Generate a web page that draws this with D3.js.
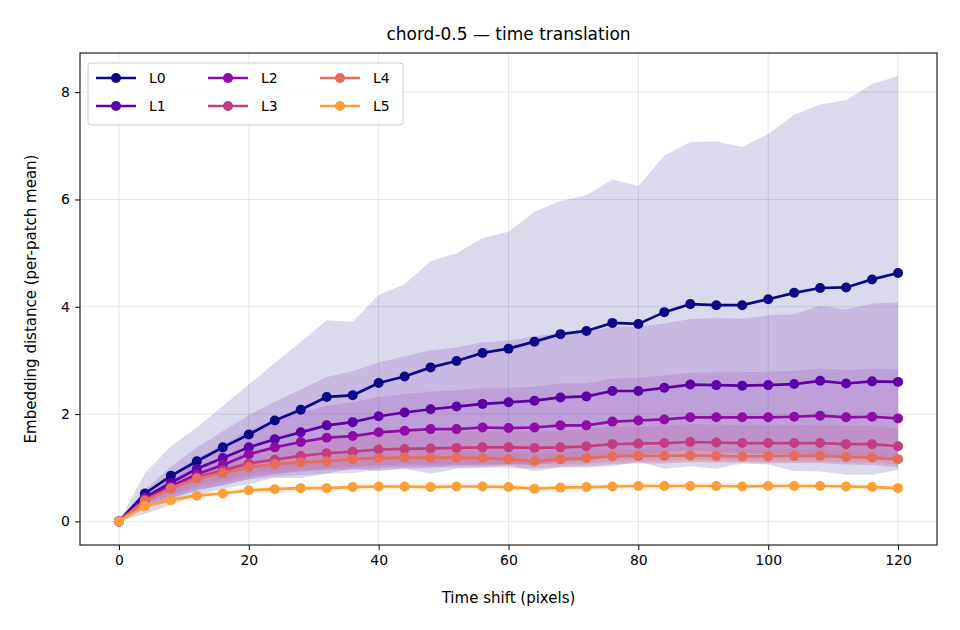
<!DOCTYPE html>
<html><head><meta charset="utf-8">
<script src="https://cdn.jsdelivr.net/npm/d3@7"></script>
<style>body{margin:0;background:#fff;font-family:"DejaVu Sans",sans-serif;}</style>
</head><body><div id="vis"></div>
<script>
const shifts = d3.range(0, 121, 4);
const seriesNames = ["L0", "L1", "L2", "L3", "L4", "L5"];
const colors = ["#0d0887", "#5c01a6", "#8f0da4", "#c33d80", "#e66c5c", "#fb9f3a"];
const meanL0 = [0,0.52,0.85,1.12,1.38,1.62,1.88,2.08,2.32,2.35,2.58,2.70,2.87,2.99,3.14,3.22,3.35,3.49,3.55,3.70,3.68,3.90,4.05,4.03,4.03,4.14,4.26,4.35,4.36,4.51,4.63];
const meanL1 = [0,0.45,0.72,0.98,1.18,1.38,1.53,1.66,1.79,1.85,1.96,2.03,2.09,2.14,2.19,2.22,2.25,2.31,2.33,2.43,2.43,2.49,2.55,2.54,2.53,2.54,2.56,2.62,2.57,2.61,2.60];
const meanL2 = [0,0.42,0.65,0.88,1.05,1.25,1.38,1.48,1.56,1.59,1.66,1.69,1.72,1.72,1.75,1.74,1.75,1.79,1.79,1.86,1.88,1.90,1.94,1.94,1.94,1.94,1.95,1.97,1.94,1.95,1.92];
const meanL3 = [0,0.40,0.62,0.82,0.95,1.08,1.15,1.22,1.27,1.30,1.34,1.35,1.36,1.37,1.38,1.38,1.37,1.38,1.40,1.44,1.45,1.46,1.48,1.47,1.46,1.46,1.46,1.46,1.44,1.44,1.40];
const meanL4 = [0,0.38,0.62,0.80,0.90,1.01,1.07,1.10,1.12,1.16,1.18,1.19,1.19,1.19,1.18,1.16,1.12,1.16,1.18,1.21,1.22,1.22,1.23,1.22,1.21,1.21,1.22,1.22,1.20,1.19,1.16];
const meanL5 = [0,0.28,0.40,0.48,0.52,0.58,0.60,0.62,0.62,0.64,0.65,0.65,0.64,0.65,0.65,0.64,0.61,0.63,0.64,0.65,0.66,0.66,0.66,0.66,0.65,0.66,0.66,0.66,0.65,0.64,0.62];
const stdL0 = [0,0.38,0.55,0.63,0.77,0.93,1.07,1.27,1.43,1.37,1.64,1.72,1.98,2.01,2.14,2.18,2.42,2.48,2.53,2.67,2.57,2.92,3.02,3.05,2.95,3.08,3.32,3.42,3.49,3.64,3.67];
const stdL1 = [0,0.15,0.30,0.40,0.50,0.60,0.70,0.80,0.90,0.95,1.00,1.05,1.10,1.10,1.15,1.15,1.20,1.20,1.20,1.20,1.20,1.20,1.22,1.25,1.25,1.30,1.30,1.40,1.38,1.45,1.48];
const stdL2 = [0,0.12,0.22,0.30,0.38,0.45,0.50,0.55,0.60,0.63,0.66,0.68,0.70,0.72,0.74,0.75,0.76,0.78,0.78,0.80,0.80,0.82,0.83,0.84,0.84,0.85,0.86,0.88,0.88,0.90,0.92];
const stdL3 = [0,0.08,0.14,0.18,0.21,0.24,0.26,0.27,0.28,0.29,0.30,0.30,0.30,0.31,0.31,0.31,0.31,0.31,0.32,0.32,0.32,0.32,0.33,0.33,0.33,0.33,0.33,0.34,0.34,0.34,0.34];
const stdL4 = [0,0.05,0.08,0.10,0.11,0.12,0.12,0.12,0.13,0.13,0.13,0.13,0.13,0.13,0.13,0.13,0.13,0.13,0.13,0.13,0.13,0.13,0.13,0.13,0.13,0.13,0.13,0.13,0.13,0.13,0.13];
const stdL5 = [0,0.03,0.04,0.05,0.05,0.06,0.06,0.06,0.06,0.06,0.06,0.06,0.06,0.06,0.06,0.06,0.06,0.06,0.06,0.06,0.06,0.06,0.06,0.06,0.06,0.06,0.06,0.06,0.06,0.06,0.06];
const xTicks = [0, 20, 40, 60, 80, 100, 120];
const yTicks = [0, 2, 4, 6, 8];

const means = [meanL0, meanL1, meanL2, meanL3, meanL4, meanL5];
const stds = [stdL0, stdL1, stdL2, stdL3, stdL4, stdL5];

const W = 960, H = 630;
const MARGIN = { LEFT: 80, RIGHT: 23, TOP: 53, BOTTOM: 85 };

const x = d3.scaleLinear().domain([-6, 126]).range([MARGIN.LEFT, W - MARGIN.RIGHT]);
const y = d3.scaleLinear().domain([-0.44, 8.73]).range([H - MARGIN.BOTTOM, MARGIN.TOP]);

const svg = d3.select("#vis").append("svg").attr("width", W).attr("height", H);

// grid
svg.append("g").selectAll("line").data(xTicks).enter().append("line")
  .attr("x1", d => x(d)).attr("x2", d => x(d))
  .attr("y1", MARGIN.TOP).attr("y2", H - MARGIN.BOTTOM)
  .attr("stroke", "#b0b0b0").attr("stroke-opacity", 0.3);
svg.append("g").selectAll("line").data(yTicks).enter().append("line")
  .attr("y1", d => y(d)).attr("y2", d => y(d))
  .attr("x1", MARGIN.LEFT).attr("x2", W - MARGIN.RIGHT)
  .attr("stroke", "#b0b0b0").attr("stroke-opacity", 0.3);

// bands
const area = d3.area().x((d, i) => x(shifts[i]));
means.forEach((m, k) => {
  svg.append("path")
    .datum(m)
    .attr("d", area.y0((d, i) => y(d - stds[k][i])).y1((d, i) => y(d + stds[k][i])))
    .attr("fill", colors[k]).attr("fill-opacity", 0.15);
});

// lines + dots
const line = d3.line().x((d, i) => x(shifts[i])).y(d => y(d));
means.forEach((m, k) => {
  const g = svg.append("g");
  g.append("path").datum(m).attr("d", line)
    .attr("fill", "none").attr("stroke", colors[k]).attr("stroke-width", 2.7);
  g.selectAll("circle").data(m).enter().append("circle")
    .attr("cx", (d, i) => x(shifts[i])).attr("cy", d => y(d))
    .attr("r", 5).attr("fill", colors[k]);
});

// axes
svg.append("g")
  .attr("transform", `translate(0, ${H - MARGIN.BOTTOM})`)
  .call(d3.axisBottom(x).tickValues(xTicks).tickSize(5).tickPadding(5))
  .call(g => g.select(".domain").remove())
  .selectAll("text").style("font-size", "14px").attr("fill", "#000").style("font-family", "DejaVu Sans");
svg.append("g")
  .attr("transform", `translate(${MARGIN.LEFT},0)`)
  .call(d3.axisLeft(y).tickValues(yTicks).tickSize(5).tickPadding(5))
  .call(g => g.select(".domain").remove())
  .selectAll("text").style("font-size", "14px").attr("fill", "#000").style("font-family", "DejaVu Sans");

svg.append("rect")
  .attr("x", MARGIN.LEFT).attr("y", MARGIN.TOP)
  .attr("width", W - MARGIN.LEFT - MARGIN.RIGHT).attr("height", H - MARGIN.TOP - MARGIN.BOTTOM)
  .attr("fill", "none").attr("stroke", "#222").attr("stroke-width", 1.2);

// labels
svg.append("text").attr("x", (MARGIN.LEFT + W - MARGIN.RIGHT) / 2).attr("y", 40)
  .attr("text-anchor", "middle").style("font-size", "17px").text("chord-0.5 — time translation");
svg.append("text").attr("x", (MARGIN.LEFT + W - MARGIN.RIGHT) / 2).attr("y", 603)
  .attr("text-anchor", "middle").style("font-size", "15px").text("Time shift (pixels)");
svg.append("text").attr("transform", `translate(36, ${(MARGIN.TOP + H - MARGIN.BOTTOM) / 2}) rotate(-90)`)
  .attr("text-anchor", "middle").style("font-size", "15px").text("Embedding distance (per-patch mean)");

// legend
const leg = svg.append("g").attr("transform", "translate(88, 63)");
leg.append("rect").attr("width", 315).attr("height", 62).attr("rx", 3)
  .attr("fill", "#fff").attr("fill-opacity", 0.8).attr("stroke", "#ccc");
seriesNames.forEach((name, k) => {
  const col = Math.floor(k / 2), row = k % 2;
  const gx = 8 + col * 112, gy = 15 + row * 28;
  leg.append("line").attr("x1", gx).attr("x2", gx + 40).attr("y1", gy).attr("y2", gy)
    .attr("stroke", colors[k]).attr("stroke-width", 2.7);
  leg.append("circle").attr("cx", gx + 20).attr("cy", gy).attr("r", 5).attr("fill", colors[k]);
  leg.append("text").attr("x", gx + 53).attr("y", gy + 5).style("font-size", "14px").text(name);
});
</script></body></html>
